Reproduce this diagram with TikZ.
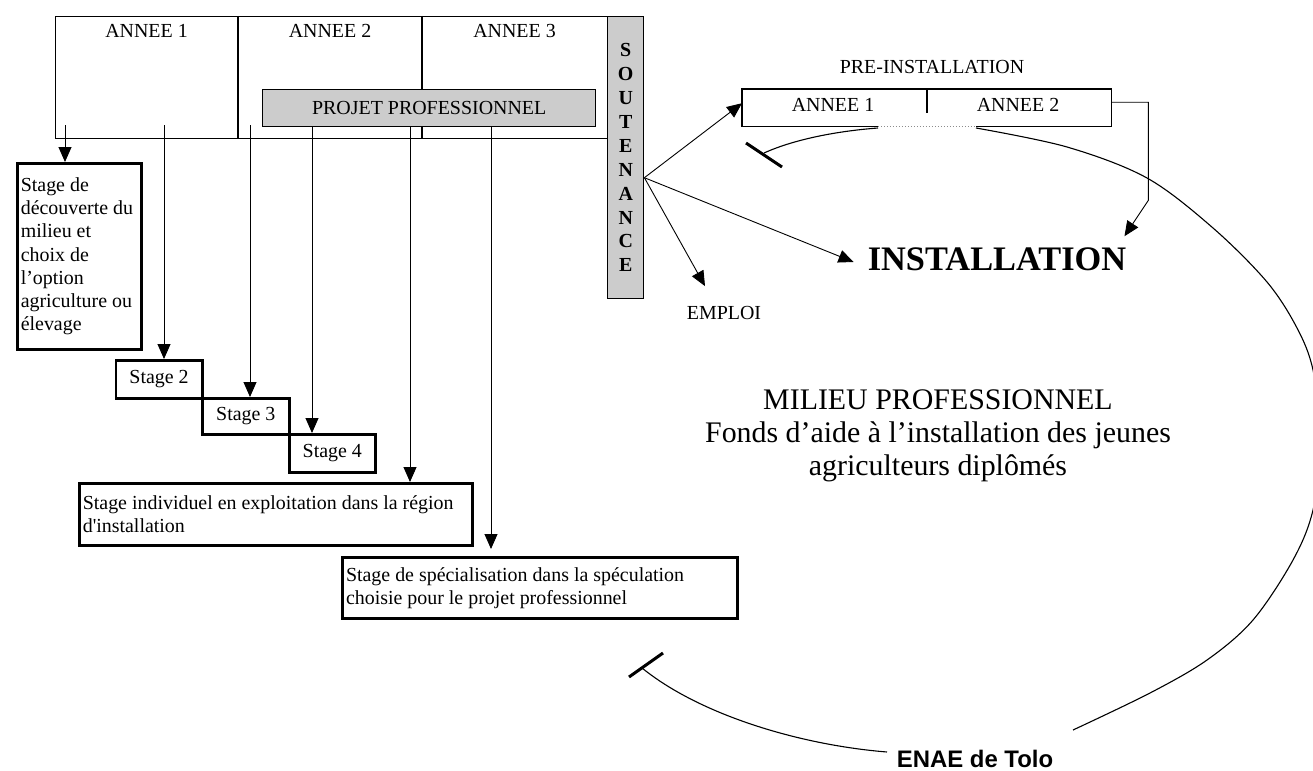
\documentclass[tikz,border=0pt]{standalone}
\usepackage{fontspec}
\setmainfont{Liberation Serif}[Ligatures=TeXOff]
\newfontfamily\arialfont{Liberation Sans}
\usetikzlibrary{arrows.meta,calc}
\begin{document}
\begin{tikzpicture}[x=1bp,y=-1bp,
  txt/.style={font=\fontsize{20}{23.3}\selectfont, inner sep=0pt},
  thinline/.style={line width=1.2bp},
  thinbox/.style={draw, line width=1.2bp, inner sep=0pt},
  graybox/.style={draw, line width=1.4bp, fill=black!20, inner sep=0pt},
  stagebox/.style={draw, line width=2.6bp, font=\fontsize{20}{23.3}\selectfont, inner sep=0pt},
  textbox/.style={draw, line width=2.6bp, font=\fontsize{20}{23.3}\selectfont, inner sep=3.5bp, align=flush left},
  arr/.style={line width=0.9bp, -{Triangle[length=15bp,width=13bp]}},
  barline/.style={line width=3bp},
  curve/.style={line width=1.1bp}]
\clip (0,0) rectangle (1313,770);
\useasboundingbox (0,0) rectangle (1313,770);

% main three-year box
\node[thinbox, minimum width=552bp, minimum height=122bp, anchor=north west] (main) at (55,16) {};
\draw[thinline] (238,16) -- (238,138);
\draw[thinline] (422,16) -- (422,138);
\node[txt] (a1) at (146.5,31) {ANNEE 1};
\node[txt] (a2) at (330,31) {ANNEE 2};
\node[txt] (a3) at (514.5,31) {ANNEE 3};
\node[graybox, txt, minimum width=333bp, minimum height=37bp, anchor=north west] (projet) at (262,89) {PROJET PROFESSIONNEL};

% soutenance
\node[graybox, minimum width=36bp, minimum height=282bp, anchor=north west,
      font=\bfseries\fontsize{20}{24}\selectfont, align=center] (sout) at (607,16)
      {S\\O\\U\\T\\E\\N\\A\\N\\C\\E};

% stage boxes
\node[textbox, anchor=north west, text width=117bp, minimum height=186bp] (s1) at (16,162)
  {Stage de\\découverte du\\milieu et\\choix de\\l’option\\agriculture ou\\élevage};
\node[stagebox, anchor=north west, minimum width=86.5bp, minimum height=38bp] (s2) at (114.5,359) {Stage 2};
\node[stagebox, anchor=north west, minimum width=87bp, minimum height=36bp] (s3) at (201,397) {Stage 3};
\node[stagebox, anchor=north west, minimum width=86bp, minimum height=38bp] (s4) at (288,433) {Stage 4};
\node[textbox, anchor=north west, text width=386bp, minimum height=62bp] (s5) at (78,482)
  {Stage individuel en exploitation dans la région\\d'installation};
\node[textbox, anchor=north west, line width=3bp, text width=388bp, minimum height=61bp] (s6) at (341,556)
  {Stage de spécialisation dans la spéculation\\choisie pour le projet professionnel};

% vertical arrows
\coordinate (v1) at (65,125);
\coordinate (v2) at (164,125);
\coordinate (v3) at (250,125);
\coordinate (v4) at (projet.south -| 312,0);
\coordinate (v5) at (projet.south -| 410,0);
\coordinate (v6) at (projet.south -| 491,0);
\draw[arr] (v1) -- (v1 |- s1.north);
\draw[arr] (v2) -- (v2 |- s2.north);
\draw[arr] (v3) -- (v3 |- s3.north);
\draw[arr] (v4) -- (v4 |- s4.north);
\draw[arr] (v5) -- (v5 |- s5.north);
\draw[arr, shorten >=7bp] (v6) -- (v6 |- s6.north);

% pre-installation
\node[txt] (preinst) at (932,67) {PRE-INSTALLATION};
\node[minimum width=369bp, minimum height=37bp, anchor=north west, inner sep=0pt] (pre) at (742,89) {};
\draw[thinline] ([xshift=136bp]pre.south west) -- (pre.south west) -- (pre.north west)
  -- (pre.north east) -- (pre.south east) -- ([xshift=-135bp]pre.south east);
\draw[line width=1bp, black!45, dotted] ([xshift=136bp]pre.south west) -- ([xshift=-135bp]pre.south east);
\draw[thinline] ([xshift=185bp]pre.north west) -- ++(0,24);
\node[txt] (p1) at (833,105) {ANNEE 1};
\node[txt] (p2) at (1018,105) {ANNEE 2};

% outcomes
\node[font=\bfseries\fontsize{34.5}{36}\selectfont, inner sep=0pt] (inst) at (997,259) {INSTALLATION};
\node[txt] (emploi) at (724,313) {EMPLOI};
\coordinate (so) at ([yshift=-20bp]sout.east);
\draw[arr] (so) -- ([yshift=4.5bp]pre.west);
\draw[arr] (so) -- ([xshift=-14bp,yshift=-3bp]inst.west);
\draw[arr] (so) -- ([xshift=-19bp,yshift=20bp]emploi.north);
\draw[arr] ([yshift=5.5bp]pre.east) -- ++(37,0) -- ++(0,98) -- ([xshift=-2bp,yshift=11bp]inst.north east);

% milieu professionnel
\node[font=\fontsize{30}{33}\selectfont, align=center, inner sep=0pt] (milieu) at (938,436)
  {MILIEU PROFESSIONNEL\\Fonds d’aide à l’installation des jeunes\\agriculteurs diplômés};

% ENAE cycle
\node[font=\arialfont\bfseries\fontsize{24}{24}\selectfont, anchor=base, inner sep=0pt] (enae) at (975,767) {ENAE de Tolo};
\draw[curve] (878,128) .. controls (838,131) and (795,139) .. (764,153);
\draw[barline] (746,143) -- (782,167);
\draw[curve] plot[smooth, tension=0.55] coordinates {(976,128) (1067,147) (1147,178) (1213,228) (1267,282) (1297,328) (1313,370) (1322,440) (1313,510) (1293,560) (1253,620) (1207,660) (1150,693) (1073,730)};
\draw[curve] (887,752) .. controls (800,745) and (700,715) .. (642,668);
\draw[barline] (629,677) -- (663,653);
\end{tikzpicture}
\end{document}
